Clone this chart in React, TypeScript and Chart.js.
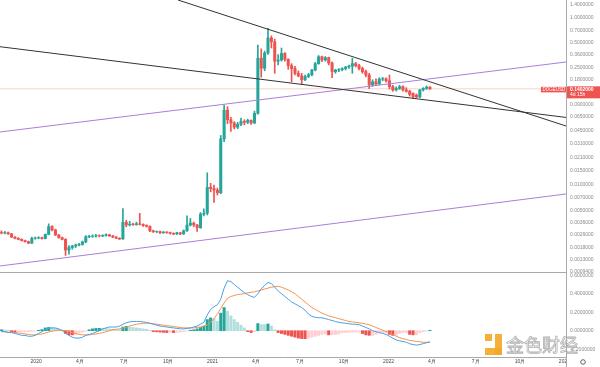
import React, { useEffect, useRef } from 'react';
import { Chart, registerables } from 'chart.js';

Chart.register(...registerables);

// Weekly DOGE/USD candles. Day offsets are counted from 2020-01-01; the first week starts 2019-10-21.
const FIRST_WEEK_OFFSET = -72;

const opens = [
  0.00272, 0.00268, 0.0027, 0.00262, 0.0024, 0.00232, 0.00225, 0.00218, 0.00212, 0.00203,
  0.00232, 0.00234, 0.00236, 0.0023, 0.00258, 0.0032, 0.00292, 0.00254, 0.00236, 0.00225,
  0.00168, 0.0018, 0.00188, 0.00193, 0.00196, 0.0021, 0.00242, 0.00245, 0.00247, 0.00249,
  0.00247, 0.00251, 0.00256, 0.00248, 0.0024, 0.00232, 0.00228, 0.0036, 0.00335, 0.00342,
  0.00338, 0.00345, 0.0034, 0.0033, 0.00322, 0.00285, 0.00278, 0.00279, 0.0027, 0.00275,
  0.00272, 0.00266, 0.00261, 0.0027, 0.00262, 0.00285, 0.00334, 0.00352, 0.00334, 0.0031,
  0.0045, 0.00462, 0.0094, 0.0091, 0.0087, 0.0081, 0.0355, 0.078, 0.06, 0.055,
  0.049, 0.053, 0.0575, 0.056, 0.059, 0.055, 0.0715, 0.325, 0.247, 0.375,
  0.567, 0.51, 0.3, 0.31, 0.37, 0.315, 0.265, 0.245, 0.215, 0.2,
  0.18, 0.197, 0.206, 0.235, 0.28, 0.338, 0.31, 0.33, 0.285, 0.225,
  0.235, 0.238, 0.245, 0.255, 0.262, 0.28, 0.265, 0.245, 0.225, 0.205,
  0.156, 0.17, 0.16, 0.183, 0.185, 0.175, 0.149, 0.136, 0.142, 0.149,
  0.136, 0.131, 0.124, 0.118, 0.112, 0.136, 0.142, 0.147,
];
const highs = [
  0.00285, 0.0028, 0.00276, 0.00266, 0.00244, 0.00236, 0.00229, 0.00221, 0.00215, 0.0024,
  0.0024, 0.00242, 0.0024, 0.00262, 0.00345, 0.00328, 0.00298, 0.00258, 0.0024, 0.0023,
  0.0019, 0.00192, 0.00198, 0.00202, 0.00215, 0.0025, 0.00252, 0.00255, 0.00258, 0.00255,
  0.00256, 0.00262, 0.00259, 0.00251, 0.00243, 0.00236, 0.00525, 0.0038, 0.0037, 0.00352,
  0.00362, 0.0046, 0.00346, 0.00336, 0.00326, 0.0029, 0.00284, 0.00282, 0.0028, 0.00279,
  0.00276, 0.0027, 0.00274, 0.00272, 0.00292, 0.0043, 0.004, 0.00362, 0.0034, 0.0047,
  0.0052, 0.014, 0.0105, 0.01, 0.0092, 0.039, 0.09, 0.086, 0.064, 0.057,
  0.056, 0.063, 0.06, 0.061, 0.06, 0.076, 0.467, 0.42, 0.395, 0.74,
  0.6, 0.55, 0.36, 0.43, 0.38, 0.32, 0.28, 0.26, 0.23, 0.215,
  0.205, 0.215, 0.24, 0.29, 0.35, 0.345, 0.34, 0.335, 0.295, 0.24,
  0.245, 0.25, 0.26, 0.27, 0.325, 0.29, 0.275, 0.255, 0.235, 0.215,
  0.18, 0.185, 0.19, 0.192, 0.19, 0.205, 0.155, 0.148, 0.155, 0.152,
  0.145, 0.135, 0.126, 0.122, 0.138, 0.145, 0.152, 0.149,
];
const lows = [
  0.00262, 0.00262, 0.00258, 0.00236, 0.00228, 0.00222, 0.00215, 0.00208, 0.002, 0.00201,
  0.00226, 0.00229, 0.00226, 0.00228, 0.00255, 0.00285, 0.0025, 0.00232, 0.00222, 0.00145,
  0.0015, 0.00172, 0.0018, 0.00188, 0.00192, 0.00205, 0.00236, 0.00238, 0.0024, 0.00241,
  0.00242, 0.00246, 0.00244, 0.00236, 0.00229, 0.00224, 0.00225, 0.00318, 0.00325, 0.0033,
  0.00332, 0.00334, 0.00322, 0.00316, 0.00278, 0.00272, 0.0027, 0.00264, 0.00266, 0.00266,
  0.0026, 0.00256, 0.00258, 0.00256, 0.00258, 0.0028, 0.00325, 0.0032, 0.0028, 0.00305,
  0.0043, 0.0044, 0.0083, 0.0062, 0.0076, 0.0079, 0.033, 0.054, 0.0437, 0.0465,
  0.047, 0.051, 0.052, 0.054, 0.053, 0.054, 0.07, 0.193, 0.23, 0.36,
  0.43, 0.215, 0.27, 0.3, 0.3, 0.24, 0.17, 0.205, 0.195, 0.16,
  0.175, 0.19, 0.2, 0.23, 0.275, 0.295, 0.3, 0.27, 0.19, 0.215,
  0.225, 0.23, 0.235, 0.245, 0.215, 0.255, 0.235, 0.215, 0.195, 0.141,
  0.15, 0.155, 0.158, 0.175, 0.168, 0.14, 0.131, 0.132, 0.138, 0.132,
  0.128, 0.115, 0.108, 0.11, 0.11, 0.132, 0.138, 0.138,
];
const closes = [
  0.00268, 0.0027, 0.00262, 0.0024, 0.00232, 0.00225, 0.00218, 0.00212, 0.00203, 0.00232,
  0.00234, 0.00236, 0.0023, 0.00258, 0.0032, 0.00292, 0.00254, 0.00236, 0.00225, 0.00168,
  0.0018, 0.00188, 0.00193, 0.00196, 0.0021, 0.00242, 0.00245, 0.00247, 0.00249, 0.00247,
  0.00251, 0.00256, 0.00248, 0.0024, 0.00232, 0.00228, 0.0036, 0.00335, 0.00342, 0.00338,
  0.00345, 0.0034, 0.0033, 0.00322, 0.00285, 0.00278, 0.00279, 0.0027, 0.00275, 0.00272,
  0.00266, 0.00261, 0.0027, 0.00262, 0.00285, 0.00334, 0.00352, 0.00334, 0.0031, 0.0045,
  0.00462, 0.0094, 0.0091, 0.0087, 0.0081, 0.0355, 0.078, 0.06, 0.055, 0.049,
  0.053, 0.0575, 0.056, 0.059, 0.055, 0.0715, 0.325, 0.247, 0.375, 0.567,
  0.51, 0.3, 0.31, 0.37, 0.315, 0.265, 0.245, 0.215, 0.2, 0.18,
  0.197, 0.206, 0.235, 0.28, 0.338, 0.31, 0.33, 0.285, 0.225, 0.235,
  0.238, 0.245, 0.255, 0.262, 0.28, 0.265, 0.245, 0.225, 0.205, 0.156,
  0.17, 0.16, 0.183, 0.185, 0.175, 0.149, 0.136, 0.142, 0.149, 0.136,
  0.131, 0.12, 0.113, 0.112, 0.136, 0.142, 0.147, 0.1402,
];

// MACD pane
const macdLine = [
  -0.01, -0.01, -0.02, -0.02, -0.03, -0.04, -0.05, -0.05, -0.06, -0.06,
  -0.05, -0.03, -0.01, 0.01, 0.025, 0.03, 0.03, 0.02, 0.0, -0.03,
  -0.05, -0.07, -0.08, -0.08, -0.07, -0.05, -0.04, -0.03, -0.015, 0.0,
  0.02, 0.03, 0.04, 0.04, 0.04, 0.05, 0.07, 0.085, 0.095, 0.1,
  0.1, 0.1, 0.095, 0.09, 0.08, 0.07, 0.06, 0.05, 0.045, 0.04,
  0.035, 0.03, 0.025, 0.02, 0.02, 0.025, 0.03, 0.04, 0.05, 0.07,
  0.09, 0.17, 0.23, 0.26, 0.28, 0.34, 0.46, 0.54, 0.53, 0.5,
  0.47, 0.44, 0.41, 0.39, 0.37, 0.36, 0.4, 0.45, 0.49, 0.52,
  0.51, 0.47, 0.43, 0.4, 0.37, 0.34, 0.31, 0.29, 0.27, 0.25,
  0.22, 0.18, 0.155, 0.145, 0.14, 0.14, 0.13, 0.12, 0.11, 0.1,
  0.09, 0.085, 0.08, 0.075, 0.07, 0.07, 0.065, 0.05, 0.035, 0.02,
  0.0, -0.01, -0.02, -0.03, -0.04, -0.06, -0.08, -0.1, -0.11, -0.115,
  -0.125, -0.14, -0.15, -0.155, -0.15, -0.14, -0.13, -0.12,
];
const signalLine = [
  -0.01, -0.012, -0.015, -0.018, -0.02, -0.025, -0.03, -0.035, -0.04, -0.045,
  -0.045, -0.04, -0.035, -0.025, -0.015, -0.005, 0.0, 0.005, 0.005, 0.0,
  -0.01, -0.02, -0.03, -0.04, -0.045, -0.045, -0.045, -0.04, -0.035, -0.03,
  -0.02, -0.01, 0.0, 0.01, 0.015, 0.02, 0.03, 0.04, 0.05, 0.06,
  0.07, 0.075, 0.08, 0.08, 0.08, 0.075, 0.07, 0.065, 0.06, 0.055,
  0.05, 0.045, 0.04, 0.035, 0.03, 0.03, 0.03, 0.03, 0.035, 0.04,
  0.05, 0.06, 0.09, 0.13, 0.18, 0.24, 0.3, 0.35, 0.37, 0.38,
  0.39, 0.395, 0.4, 0.41, 0.415, 0.42, 0.43, 0.44, 0.45, 0.46,
  0.47, 0.475, 0.48, 0.47, 0.455, 0.44, 0.42, 0.4, 0.37, 0.34,
  0.31, 0.28, 0.25, 0.23, 0.21, 0.19, 0.175, 0.16, 0.15, 0.14,
  0.13, 0.12, 0.11, 0.1, 0.095, 0.09, 0.085, 0.08, 0.072, 0.065,
  0.05, 0.035, 0.02, 0.005, -0.01, -0.02, -0.045, -0.06, -0.075, -0.085,
  -0.095, -0.105, -0.11, -0.115, -0.12, -0.125, -0.125, -0.125,
];
const macdHist = [
  0.01, 0.008, 0.005, -0.01, -0.015, -0.015, -0.015, -0.012, -0.01, -0.008,
  -0.005, 0.005, 0.012, 0.03, 0.036, 0.035, 0.025, 0.015, 0.005, -0.03,
  -0.044, -0.045, -0.04, -0.025, -0.015, -0.005, 0.01, 0.02, 0.025, 0.026,
  0.025, 0.024, 0.02, 0.015, 0.01, 0.01, 0.04, 0.047, 0.04, 0.035,
  0.03, 0.025, 0.02, 0.015, 0.005, -0.01, -0.012, -0.015, -0.018, -0.02,
  -0.016, -0.02, -0.018, -0.015, -0.01, -0.005, 0.005, 0.01, 0.02, 0.035,
  0.05, 0.12, 0.138, 0.13, 0.1, 0.19, 0.25, 0.21, 0.16, 0.12,
  0.09, 0.06, 0.03, -0.01, -0.02, -0.01, 0.077, 0.066, 0.066, 0.073,
  0.05, 0.01, -0.02, -0.03, -0.04, -0.05, -0.06, -0.07, -0.08, -0.085,
  -0.087, -0.08, -0.07, -0.06, -0.05, -0.04, -0.035, -0.045, -0.045, -0.04,
  -0.035, -0.02, -0.02, -0.018, -0.015, -0.015, -0.012, -0.03, -0.045, -0.05,
  -0.05, -0.04, -0.025, -0.02, -0.02, -0.04, -0.05, -0.05, -0.03, -0.02,
  -0.02, -0.04, -0.045, -0.045, -0.02, -0.01, -0.005, 0.005,
];

// Axis ticks
const xTickDays = [0, 91, 182, 274, 366, 456, 547, 639, 731, 821, 912, 1004, 1096];
const xTickLabels = ['2020', '4月', '7月', '10月', '2021', '4月', '7月', '10月', '2022', '4月', '7月', '10月', '2023'];
const priceTicks = [1.4, 1.0, 0.7, 0.5, 0.36, 0.25, 0.18, 0.13, 0.09, 0.065, 0.045, 0.031, 0.021, 0.015, 0.01, 0.007, 0.005, 0.0036, 0.0026, 0.0018, 0.0013, 0.00094];
const macdTicks = [0.6, 0.4, 0.2, 0, -0.2];

const X_MIN = -75;
const X_MAX = 1099.3;
const PRICE_MIN = 0.00092;
const PRICE_MAX = 1.606;
const MACD_MIN = -0.284;
const MACD_MAX = 0.634;

// Trend lines: [day offset, price]
const blackUpper = [[294.3, 1.606], [1099.3, 0.0506]];
const blackLower = [[-75, 0.4457], [1099.3, 0.064]];
const purpleUpper = [[-75, 0.0429], [1099.3, 0.293]];
const purpleLower = [[-75, 0.001085], [1099.3, 0.00783]];

const SYMBOL = 'DOGEUSD';
const COUNTDOWN = '4d 15h';
const WATERMARK = '金色财经';

const FONT = '"Liberation Sans", Arial, sans-serif';

export default function App() {
  const ref = useRef<HTMLCanvasElement>(null);

  useEffect(() => {
    const canvas = ref.current;
    if (!canvas) return;
    Chart.defaults.font.family = FONT;

    const weeks = closes.map((_, i) => FIRST_WEEK_OFFSET + 7 * i);
    const UP = '#26a69a';
    const DOWN = '#ef5350';
    const candleColors = closes.map((c, i) => (c >= opens[i] ? UP : DOWN));
    const histColors = macdHist.map((h, i) => {
      const prev = i > 0 ? macdHist[i - 1] : 0;
      if (h >= 0) return h > prev ? '#26a69a' : '#b2dfdb';
      return h < prev ? '#ef5350' : '#ffcdd2';
    });
    const lastClose = closes[closes.length - 1];

    const toPts = (arr: number[][]) => arr.map(([x, y]) => ({ x, y }));
    const trend = (pts: number[][], color: string) => ({
      type: 'line' as const,
      data: toPts(pts),
      borderColor: color,
      borderWidth: 1,
      pointRadius: 0,
      tension: 0,
      yAxisID: 'y',
      order: 0,
    });

    const overlay = {
      id: 'overlay',
      afterDraw(chart: any) {
        const { ctx, chartArea } = chart;
        const ys = chart.scales.y;
        const ys2 = chart.scales.y2;
        const xs = chart.scales.x;
        const right = chartArea.right;
        const W = chart.width;
        const H = chart.height;
        ctx.save();
        // clip x labels beyond the price axis
        ctx.fillStyle = '#ffffff';
        ctx.fillRect(right + 0.5, xs.top + 1, W - right, H - xs.top);
        ctx.strokeStyle = '#a9a9a9';
        ctx.lineWidth = 1;
        ctx.beginPath();
        const sy = Math.round(ys2.top) + 0.5;
        ctx.moveTo(0, sy);
        ctx.lineTo(right, sy);
        const rx = Math.round(right) + 0.5;
        ctx.moveTo(rx, xs.top);
        ctx.lineTo(rx, H);
        ctx.stroke();
        // settings gear
        ctx.strokeStyle = '#666';
        ctx.beginPath();
        ctx.arc(583, 362, 2.3, 0, Math.PI * 2);
        ctx.stroke();
        // price tag
        const py = ys.getPixelForValue(lastClose);
        ctx.fillStyle = '#ef5350';
        ctx.fillRect(right + 1, py - 2.5, W - right - 1, 12);
        ctx.fillRect(right - 25, py - 2, 25, 5.5);
        ctx.fillStyle = '#ffffff';
        ctx.textBaseline = 'middle';
        ctx.textAlign = 'left';
        ctx.font = `bold 5px ${FONT}`;
        ctx.fillText(lastClose.toFixed(7), right + 4, py + 0.5);
        ctx.font = `5px ${FONT}`;
        ctx.fillText(COUNTDOWN, right + 4, py + 6);
        ctx.font = `4.5px ${FONT}`;
        ctx.fillText(SYMBOL, right - 23.5, py + 0.8);
        // watermark
        ctx.globalAlpha = 0.9;
        ctx.fillStyle = '#f5a623';
        ctx.fillRect(485, 334, 7, 7);
        ctx.fillRect(495, 334, 7, 21);
        ctx.fillRect(485, 348, 17, 7);
        ctx.globalAlpha = 1;
        ctx.font = `18px "Noto Sans CJK SC", sans-serif`;
        ctx.textBaseline = 'middle';
        ctx.fillStyle = 'rgba(255,255,255,0.75)';
        ctx.fillText(WATERMARK, 506, 345);
        ctx.strokeStyle = 'rgba(150,150,150,0.75)';
        ctx.lineWidth = 0.8;
        ctx.strokeText(WATERMARK, 506, 345);
        ctx.restore();
      },
    };

    const chart = new Chart(canvas, {
      type: 'bar',
      data: {
        datasets: [
          trend(blackUpper, '#333333'),
          trend(blackLower, '#333333'),
          trend(purpleUpper, '#a97fd8'),
          trend(purpleLower, '#a97fd8'),
          {
            type: 'bar',
            data: weeks.map((d, i) => ({ x: d, y: [opens[i], closes[i]] })),
            backgroundColor: candleColors,
            barThickness: 2.4,
            grouped: false,
            yAxisID: 'y',
            order: 1,
          } as any,
          {
            type: 'bar',
            data: weeks.map((d, i) => ({ x: d, y: [lows[i], highs[i]] })),
            backgroundColor: candleColors,
            barThickness: 1,
            grouped: false,
            yAxisID: 'y',
            order: 2,
          } as any,
          {
            type: 'line',
            data: [{ x: X_MIN, y: lastClose }, { x: X_MAX, y: lastClose }],
            borderColor: 'rgba(239,120,90,0.35)',
            borderWidth: 1,
            pointRadius: 0,
            yAxisID: 'y',
            order: 3,
          } as any,
          {
            type: 'line',
            data: weeks.map((d, i) => ({ x: d, y: macdLine[i] })),
            borderColor: '#4a9fe6',
            borderWidth: 1,
            pointRadius: 0,
            tension: 0,
            yAxisID: 'y2',
            order: 4,
          } as any,
          {
            type: 'line',
            data: weeks.map((d, i) => ({ x: d, y: signalLine[i] })),
            borderColor: '#f5944a',
            borderWidth: 1,
            pointRadius: 0,
            tension: 0,
            yAxisID: 'y2',
            order: 4,
          } as any,
          {
            type: 'bar',
            data: weeks.map((d, i) => ({ x: d, y: macdHist[i] })),
            backgroundColor: histColors,
            barThickness: 2.4,
            grouped: false,
            yAxisID: 'y2',
            order: 5,
          } as any,
        ] as any,
      },
      options: {
        responsive: false,
        devicePixelRatio: 1,
        animation: false,
        events: [],
        layout: { padding: 0 },
        plugins: { legend: { display: false }, tooltip: { enabled: false } },
        scales: {
          x: {
            type: 'linear',
            min: X_MIN,
            max: X_MAX,
            offset: false,
            grid: { display: false, drawTicks: false },
            border: { display: true, color: '#a9a9a9' },
            ticks: {
              font: { size: 5 },
              color: '#444',
              padding: 2,
              autoSkip: false,
              maxRotation: 0,
              minRotation: 0,
              callback: (_v: any, i: number) => xTickLabels[i],
            },
            afterBuildTicks: (s: any) => {
              s.ticks = xTickDays.map((v) => ({ value: v }));
            },
            afterFit: (s: any) => {
              s.height = 10;
              s.paddingLeft = 0;
              s.paddingRight = 0;
            },
          },
          y: {
            type: 'logarithmic',
            position: 'right',
            stack: 'panes',
            stackWeight: 272,
            min: PRICE_MIN,
            max: PRICE_MAX,
            grid: { display: false, drawTicks: false },
            border: { display: true, color: '#a9a9a9' },
            ticks: {
              font: { size: 5 },
              color: '#8a8a8a',
              padding: 4,
              autoSkip: false,
              callback: (v: any) => Number(v).toFixed(7),
            },
            afterBuildTicks: (s: any) => {
              s.ticks = priceTicks.map((v) => ({ value: v }));
            },
            afterFit: (s: any) => {
              s.width = 34;
              s.paddingTop = 0;
              s.paddingBottom = 0;
            },
          },
          y2: {
            type: 'linear',
            position: 'right',
            stack: 'panes',
            stackWeight: 85,
            min: MACD_MIN,
            max: MACD_MAX,
            grid: { display: false, drawTicks: false },
            border: { display: true, color: '#a9a9a9' },
            ticks: {
              font: { size: 5 },
              color: '#8a8a8a',
              padding: 4,
              autoSkip: false,
              callback: (v: any) => Number(v).toFixed(7),
            },
            afterBuildTicks: (s: any) => {
              s.ticks = macdTicks.map((v) => ({ value: v }));
            },
            afterFit: (s: any) => {
              s.width = 34;
              s.paddingTop = 0;
              s.paddingBottom = 0;
            },
          },
        } as any,
      },
      plugins: [overlay],
    } as any);

    return () => chart.destroy();
  }, []);

  return (
    <div style={{ position: 'absolute', left: 0, top: 0, width: 600, height: 367, background: '#ffffff' }}>
      <canvas ref={ref} width={600} height={367} style={{ display: 'block' }} />
    </div>
  );
}
